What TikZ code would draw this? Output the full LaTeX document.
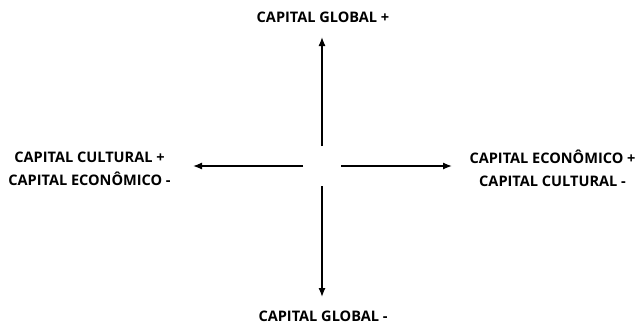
\documentclass[tikz,border=0pt]{standalone}
\usepackage{fontspec}
\setmainfont{Open Sans}
\usetikzlibrary{arrows.meta}
\begin{document}
\begin{tikzpicture}[x=1bp,y=-1bp,
  lbl/.style={font=\fontsize{14.6}{23}\selectfont\bfseries, align=center, inner sep=0pt},
  axis/.style={line width=1.3bp, -{Latex[length=9bp,width=7bp]}}]
\useasboundingbox (0,0) rectangle (640,325);
\node[lbl] (top) at (323,17) {CAPITAL GLOBAL +};
\node[lbl] (bot) at (323,316) {CAPITAL GLOBAL -};
\node[lbl] (left) at (89.5,169) {CAPITAL CULTURAL +\\CAPITAL ECONÔMICO -};
\node[lbl] (right) at (552.5,168) {CAPITAL ECONÔMICO +\\CAPITAL CULTURAL -};
\coordinate (us) at (322,146);
\coordinate (ue) at (322,37);
\coordinate (ds) at (322,186);
\coordinate (de) at (322,297);
\coordinate (ls) at (303,166);
\coordinate (le) at (193,166);
\coordinate (rs) at (341,166);
\coordinate (re) at (452,166);
\draw[axis] (us) -- (ue);
\draw[axis] (ds) -- (de);
\draw[axis] (ls) -- (le);
\draw[axis] (rs) -- (re);
\end{tikzpicture}
\end{document}
